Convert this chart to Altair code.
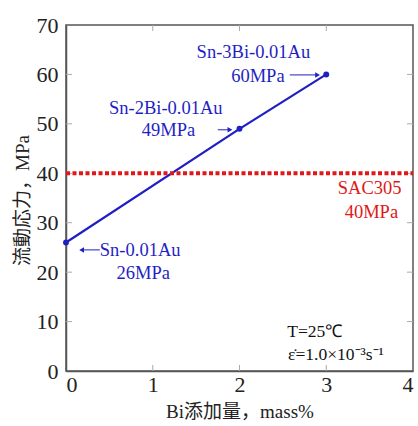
import altair as alt
import pandas as pd

# data
bi_content = [0, 2, 3]
flow_stress = [26, 49, 60]
sac305_level = 40

x_ticks = [1, 2, 3]
y_ticks = [10, 20, 30, 40, 50, 60]

ann_center_text = ["Sn-3Bi-0.01Au", "Sn-2Bi-0.01Au", "26MPa"]
ann_center_x = [2.16, 1.15, 0.89]
ann_center_y = [64.5, 53.2, 19.8]

ann_right_text = ["60MPa", "49MPa"]
ann_right_x = [2.52, 1.49]
ann_right_y = [59.7, 48.8]

ann_left_text = ["Sn-0.01Au"]
ann_left_x = [0.39]
ann_left_y = [24.5]

sac_text = ["SAC305", "40MPa"]
sac_x = [3.5, 3.52]
sac_y = [37.0, 32.2]

cond_text = ["T=25℃", "ε̇=1.0×10⁻³s⁻¹"]
cond_x = [2.55, 2.56]
cond_y = [7.9, 3.2]
cond_size = [17.5, 17.5]

arrow_x0 = [2.58, 1.75, 0.39]
arrow_x1 = [2.90, 1.89, 0.18]
arrow_y = [59.9, 48.8, 24.5]
arrow_shape = ["triangle-right", "triangle-right", "triangle-left"]

BLUE = "#1f1fc4"
RED = "#e01818"
SERIF = "Liberation Serif"
SERIF_CJK = "Times New Roman, Liberation Serif, Noto Sans CJK JP, serif"
W, H = 347, 346

xs = alt.Scale(domain=[0, 4], nice=False, zero=False)
ys = alt.Scale(domain=[0, 70], nice=False, zero=False)

pts = pd.DataFrame({"x": bi_content, "y": flow_stress})

base_x = alt.X("x:Q", scale=xs,
               axis=alt.Axis(values=[0, 1, 2, 3, 4], format="d", title="Bi添加量，mass%", ticks=False,
                             labelFont=SERIF, labelFontSize=22, labelPadding=3, labelColor="#222",
                             titleFont=SERIF_CJK, titleFontSize=19, titleFontWeight="normal",
                             titleColor="#222", titleY=40, titleBaseline="middle",
                             domainColor="#555", domainWidth=1.5, grid=False))
base_y = alt.Y("y:Q", scale=ys,
               axis=alt.Axis(values=[0, 10, 20, 30, 40, 50, 60, 70], format="d", title="流動応力，MPa", ticks=False,
                             labelFont=SERIF, labelFontSize=22, labelPadding=8, labelColor="#222",
                             titleFont=SERIF_CJK, titleFontSize=19, titleFontWeight="normal",
                             titleColor="#222", titleX=-44, titleY=H / 2 + 2,
                             titleBaseline="middle", titleAlign="center",
                             domainColor="#555", domainWidth=1.5, grid=False))

line = alt.Chart(pts).mark_line(color=BLUE, strokeWidth=2.2).encode(x=base_x, y=base_y)
dots = alt.Chart(pts).mark_point(color=BLUE, filled=True, opacity=1, size=35).encode(
    x=alt.X("x:Q", scale=xs), y=alt.Y("y:Q", scale=ys))

sac_df = pd.DataFrame({"x0": [0], "x1": [4], "y": [sac305_level]})
sac_line = alt.Chart(sac_df).mark_rule(color=RED, strokeWidth=4, strokeDash=[4, 2.5]).encode(
    x=alt.X("x0:Q", scale=xs), x2="x1:Q", y=alt.Y("y:Q", scale=ys))

# inner ticks
xt = pd.DataFrame({"x": x_ticks})
yt = pd.DataFrame({"y": y_ticks})
tick_color = "#aaaaaa"
xt_top = alt.Chart(xt).mark_rule(color=tick_color, strokeWidth=1).encode(
    x=alt.X("x:Q", scale=xs), y=alt.value(0), y2=alt.value(6))
xt_bot = alt.Chart(xt).mark_rule(color=tick_color, strokeWidth=1).encode(
    x=alt.X("x:Q", scale=xs), y=alt.value(H - 6), y2=alt.value(H))
yt_left = alt.Chart(yt).mark_rule(color=tick_color, strokeWidth=1).encode(
    y=alt.Y("y:Q", scale=ys), x=alt.value(0), x2=alt.value(6))
yt_right = alt.Chart(yt).mark_rule(color=tick_color, strokeWidth=1).encode(
    y=alt.Y("y:Q", scale=ys), x=alt.value(W - 6), x2=alt.value(W))

def text_layer(texts, xv, yv, align, color, size=18.5):
    df = pd.DataFrame({"t": texts, "x": xv, "y": yv})
    return alt.Chart(df).mark_text(align=align, baseline="middle", font=SERIF,
                                   fontSize=size, color=color).encode(
        x=alt.X("x:Q", scale=xs), y=alt.Y("y:Q", scale=ys), text="t:N")

t_center = text_layer(ann_center_text, ann_center_x, ann_center_y, "center", BLUE)
t_right = text_layer(ann_right_text, ann_right_x, ann_right_y, "right", BLUE)
t_left = text_layer(ann_left_text, ann_left_x, ann_left_y, "left", BLUE)
t_sac = text_layer(sac_text, sac_x, sac_y, "center", RED)

cond_df = pd.DataFrame({"t": cond_text, "x": cond_x, "y": cond_y, "s": cond_size})
t_cond = alt.Chart(cond_df).mark_text(align="left", baseline="middle", font=SERIF,
                                      color="#111").encode(
    x=alt.X("x:Q", scale=xs), y=alt.Y("y:Q", scale=ys), text="t:N",
    size=alt.Size("s:Q", scale=None, legend=None))

arr_df = pd.DataFrame({"x0": arrow_x0, "x1": arrow_x1, "y": arrow_y, "shape": arrow_shape})
arr_line = alt.Chart(arr_df).mark_rule(color=BLUE, strokeWidth=1).encode(
    x=alt.X("x0:Q", scale=xs), x2="x1:Q", y=alt.Y("y:Q", scale=ys))
arr_head = alt.Chart(arr_df).mark_point(color=BLUE, filled=True, opacity=1, size=30).encode(
    x=alt.X("x1:Q", scale=xs), y=alt.Y("y:Q", scale=ys),
    shape=alt.Shape("shape:N", scale=None, legend=None))

chart = alt.layer(
    xt_top, xt_bot, yt_left, yt_right,
    line, sac_line, dots, arr_line, arr_head,
    t_center, t_right, t_left, t_sac, t_cond,
).properties(
    width=W, height=H, autosize="none",
    padding={"left": 66, "top": 25, "right": 5, "bottom": 55},
    background="white",
).configure_view(stroke="#555", strokeWidth=1.5)

chart.save("out.html", embed_options={"renderer": "svg", "actions": False})
